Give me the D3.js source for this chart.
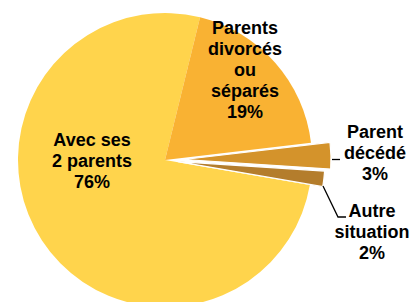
<!DOCTYPE html>
<html>
<head>
<meta charset="utf-8">
<script src="https://cdn.jsdelivr.net/npm/d3@7"></script>
<style>
  html, body { margin: 0; padding: 0; background: #fff; }
  svg { display: block; }
</style>
</head>
<body>
<script>
// Chart data (shares, labels show rounded values)
const categories = ["Parents divorcés ou séparés", "Parent décédé", "Autre situation", "Avec ses 2 parents"];
const values = [19.3, 2.9, 1.7, 76.1];
const labelLines = [
  ["Parents", "divorcés", "ou", "séparés"],
  ["Parent", "décédé"],
  ["Autre", "situation"],
  ["Avec ses", "2 parents"]
];
const colors = ["#F9B233", "#D4932B", "#B47D2C", "#FFD44C"];
const explode = [0, 19, 13, 0];

const width = 411, height = 302;
const cx = 165, cy = 160, radius = 147;

const svg = d3.select("body").append("svg")
  .attr("width", width)
  .attr("height", height)
  .style("font-family", "'Liberation Sans', Arial, sans-serif");

const start = 13.8 * Math.PI / 180;
const pie = d3.pie()
  .sort(null)
  .value(d => d)
  .startAngle(start)
  .endAngle(start + 2 * Math.PI);

const arcs = pie(values);
const arc = d3.arc().innerRadius(0).outerRadius(radius);

const g = svg.append("g").attr("transform", `translate(${cx},${cy})`);

// draw big slice first so exploded ones sit on top
const order = [3, 0, 1, 2];
g.selectAll("path")
  .data(order.map(i => ({a: arcs[i], i})))
  .join("path")
  .attr("transform", d => {
    const mid = (d.a.startAngle + d.a.endAngle) / 2;
    const off = explode[d.i];
    return `translate(${off * Math.sin(mid)},${-off * Math.cos(mid)})`;
  })
  .attr("d", d => arc(d.a))
  .attr("fill", d => colors[d.i])
  .attr("stroke", d => explode[d.i] ? "#fff" : "none")
  .attr("stroke-width", 1.2);

// label positions (centre x, first baseline)
const labelPos = [
  {x: 245, y: 34},
  {x: 375, y: 138},
  {x: 372, y: 217},
  {x: 92, y: 146}
];
const lineH = 21;

labelLines.forEach((lines, i) => {
  const all = lines.concat([Math.round(values[i]) + "%"]);
  const t = svg.append("text")
    .attr("text-anchor", "middle")
    .attr("font-size", 18)
    .attr("font-weight", "bold")
    .attr("fill", "#000");
  all.forEach((l, k) => {
    t.append("tspan")
      .attr("x", labelPos[i].x)
      .attr("y", labelPos[i].y + k * lineH)
      .text(l);
  });
});

// leader lines for the small slices
const leader = d3.line();
svg.append("path")
  .attr("d", leader([[332, 159.5], [340, 159.5]]))
  .attr("stroke", "#000").attr("stroke-width", 1.3).attr("fill", "none");
svg.append("path")
  .attr("d", leader([[323, 186], [338, 217], [346, 217]]))
  .attr("stroke", "#000").attr("stroke-width", 1.3).attr("fill", "none");
</script>
</body>
</html>
